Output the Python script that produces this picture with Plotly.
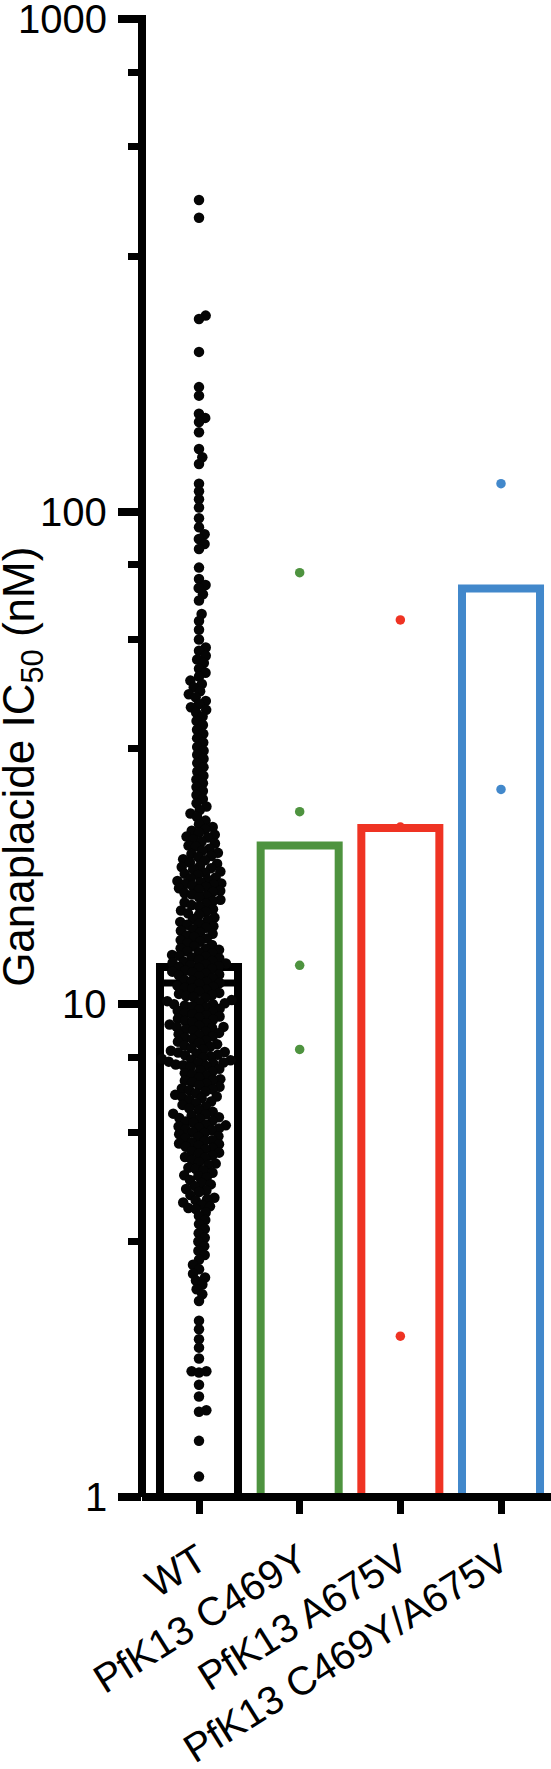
import math
import numpy as np
import plotly.graph_objects as go

# ---- data ----
groups = ["WT", "PfK13 C469Y", "PfK13 A675V", "PfK13 C469Y/A675V"]
colors = ["#000000", "#4E933F", "#EF3323", "#4288CB"]
bar_heights = [11.9, 21.0, 22.8, 69.8]
wt_err_minus = 0.85

y_ticks = [1, 10, 100, 1000]
y_minor = [3.3, 5.5, 7.8, 33, 55, 78, 330, 550, 780]

wt_vals = [
    429, 395, 250, 246, 211, 179, 172, 158, 155, 152, 145, 134, 129, 125, 114, 110,
    106, 102, 97, 93, 90, 88, 86, 84, 77, 73, 71, 70, 68, 66, 62, 60, 57.6, 55, 53,
    52.2, 51.0, 50.1, 49.3, 48.0, 47.1,
    46.3, 45.4, 44.7, 44.0, 43.2, 42.6, 42.0, 41.3, 40.7, 40.1, 39.6, 39.1,
    38.4, 37.6, 36.9, 36.1, 35.4, 34.7, 34.0, 33.3, 32.7, 32.1, 31.5, 30.9, 30.3, 29.7,
    29.1, 28.6, 28.1, 27.6, 27.1, 26.6, 26.1, 25.6, 25.2, 24.8, 24.4, 24.0, 23.6, 23.2, 22.9,
    22.7, 22.5, 22.3, 22.1, 21.9, 21.8, 21.6, 21.4, 21.2, 21.0, 20.9, 20.7, 20.5, 20.3, 20.2,
    20.0, 19.9, 19.7, 19.6, 19.4, 19.3, 19.1, 19.0, 18.9, 18.8, 18.6, 18.5, 18.4, 18.3, 18.1,
    18.0, 17.9, 17.8, 17.7, 17.6, 17.55, 17.5,
    17.4, 17.3, 17.2, 17.1, 17.0, 16.9, 16.8, 16.7, 16.6, 16.5, 16.3, 16.2, 16.1, 16.0, 15.9,
    15.8, 15.6, 15.5, 15.4, 15.3, 15.2, 15.0, 14.9, 14.8, 14.7, 14.6, 14.5, 14.4, 14.3, 14.2,
    14.1, 14.0, 13.9, 13.8, 13.7, 13.6, 13.5, 13.4, 13.3, 13.2, 13.1, 13.0, 12.95, 12.9, 12.8,
    12.75, 12.7, 12.6, 12.55, 12.5, 12.45, 12.4, 12.3,
    12.25, 12.2, 12.15, 12.1, 12.05, 12.0, 11.95, 11.9, 11.85, 11.8, 11.7, 11.65, 11.6, 11.55,
    11.5, 11.45, 11.4, 11.3, 11.2, 11.15, 11.1, 11.05, 11.0, 10.9, 10.85, 10.8, 10.75, 10.7,
    10.6, 10.55, 10.5, 10.45, 10.4, 10.35, 10.3, 10.2,
    10.15, 10.1, 10.05, 10.0, 10.0, 9.95, 9.9, 9.85, 9.8, 9.75, 9.7, 9.65, 9.6, 9.55, 9.5,
    9.45, 9.4, 9.35, 9.3, 9.25, 9.2, 9.15, 9.1, 9.05, 9.0, 9.0, 8.95, 8.9, 8.85, 8.8, 8.75,
    8.7, 8.65, 8.6, 8.55, 8.5, 8.45, 8.4, 8.35, 8.3, 8.25, 8.2, 8.15, 8.1, 8.05, 8.0, 7.98,
    7.95, 7.9, 7.88, 7.85, 7.8, 7.75, 7.72, 7.7, 7.65, 7.62, 7.6, 7.58, 7.55, 7.52, 7.5,
    7.45, 7.4, 7.35, 7.3, 7.25, 7.2, 7.15, 7.1, 7.05, 7.02, 7.0, 6.95, 6.9, 6.85, 6.8, 6.75,
    6.72, 6.7, 6.65, 6.6, 6.55, 6.5, 6.48, 6.45, 6.4, 6.35, 6.3, 6.25, 6.2, 6.15, 6.1, 6.05,
    6.0, 5.98, 5.95, 5.9, 5.88, 5.85, 5.8, 5.78, 5.75, 5.7, 5.68, 5.65, 5.62, 5.6, 5.58,
    5.55, 5.5, 5.48, 5.45, 5.4, 5.38, 5.35, 5.3, 5.28, 5.25, 5.22, 5.2, 5.17, 5.14, 5.11, 5.08,
    5.03, 5.0, 4.98, 4.93, 4.9, 4.88, 4.83, 4.78, 4.75, 4.72, 4.66, 4.63, 4.6, 4.55, 4.5,
    4.48, 4.45, 4.4, 4.34, 4.31, 4.28, 4.22, 4.19, 4.16, 4.1, 4.05, 4.02, 4.0, 3.96, 3.92,
    3.89, 3.86, 3.84,
    3.78, 3.72, 3.65, 3.58, 3.5, 3.43, 3.36, 3.3, 3.23, 3.16, 3.1, 3.03, 2.96, 2.9, 2.84,
    2.79, 2.75,
    2.7, 2.64, 2.58, 2.50, 2.28, 2.19, 2.09, 2.01, 1.91, 1.80, 1.80, 1.79, 1.69, 1.60,
    1.50, 1.49, 1.30, 1.10,
]
c469y_vals = [75.2, 24.6, 12.0, 8.1]
a675v_vals = [60.3, 22.9, 2.12]
double_vals = [114.0, 27.3]

# ---- geometry (px) ----
W, H = 551, 1769
ML, MT, MB = 142, 19, 272
PX_DEC = (H - MT - MB) / 3.0
PX_CAT = 100.67


def swarm(vals, dcol):
    # simple beeswarm: put each point as close to the centre as it can go
    ys = PX_DEC * np.log10(np.asarray(vals, dtype=float))
    xs = np.zeros(len(ys))
    placed = []
    for i in np.argsort(ys, kind="stable"):
        y = ys[i]
        near = [(px, py) for px, py in placed if abs(py - y) < dcol]
        cands = [0.0]
        for px, py in near:
            dx = math.sqrt(dcol ** 2 - (py - y) ** 2)
            cands += [px + dx, px - dx]
        cands.sort(key=abs)
        for c in cands:
            if all((c - px) ** 2 + (y - py) ** 2 >= dcol ** 2 - 1e-6 for px, py in near):
                xs[i] = c
                break
        placed.append((xs[i], y))
    return xs / PX_CAT


fig = go.Figure()

# bars (outlined)
for i, (g, c, h) in enumerate(zip(groups, colors, bar_heights)):
    err = None
    if i == 0:
        err = dict(type="data", symmetric=False, array=[0], arrayminus=[wt_err_minus],
                   color=c, thickness=7, width=35)
    fig.add_trace(go.Bar(x=[i], y=[h], width=0.775,
                         marker=dict(color="rgba(255,255,255,0)", line=dict(color=c, width=8)),
                         error_y=err, hoverinfo="skip"))

# points
wt_x = swarm(wt_vals, 7.5)
fig.add_trace(go.Scatter(x=wt_x, y=wt_vals, mode="markers",
                         marker=dict(color="#050505", size=10.5, line=dict(width=0))))
for i, vals in zip([1, 2, 3], [c469y_vals, a675v_vals, double_vals]):
    fig.add_trace(go.Scatter(x=[i] * len(vals), y=vals, mode="markers",
                             marker=dict(color=colors[i], size=9.5, line=dict(width=0))))

font = "Liberation Sans, Arial, sans-serif"
plot_h = H - MT - MB

# axis lines drawn as shapes so they sit centred on the data edges
fig.add_shape(type="line", xref="paper", yref="paper", x0=0, x1=0, y0=0, y1=1 + 4.0 / plot_h,
              line=dict(color="black", width=8))
fig.add_shape(type="line", xref="paper", yref="paper", x0=0, x1=1, y0=0, y1=0,
              line=dict(color="black", width=8))

# y tick labels
for v in y_ticks:
    fig.add_annotation(text=str(v), xref="paper", yref="y", x=0, y=math.log10(v),
                       xanchor="right", yanchor="middle", xshift=-33, showarrow=False,
                       font=dict(family=font, size=40, color="black"))

fig.add_annotation(text="Ganaplacide IC<sub>50</sub> (nM)", textangle=-90,
                   xref="paper", yref="paper", x=(22 - ML) / (W - ML), y=0.494,
                   xanchor="center", yanchor="middle", showarrow=False,
                   font=dict(family=font, size=44, color="black"))

fig.update_layout(
    width=W, height=H,
    margin=dict(l=ML, r=0, t=MT, b=MB, pad=0),
    paper_bgcolor="white", plot_bgcolor="white",
    showlegend=False, barmode="overlay",
    font=dict(family=font, color="black"),
)
fig.update_xaxes(range=[(ML - 199) / PX_CAT, (ML - 199) / PX_CAT + (W - ML) / PX_CAT],
                 tickvals=[0, 1, 2, 3], ticktext=groups, tickangle=-32,
                 ticks="outside", ticklen=16, tickwidth=7, tickcolor="black",
                 ticklabelstandoff=7,
                 tickfont=dict(family=font, size=40, color="black"),
                 showline=False, showgrid=False, zeroline=False, automargin=False)
fig.update_yaxes(type="log", range=[0, 3],
                 tickvals=y_ticks, showticklabels=False,
                 ticks="outside", ticklen=23, tickwidth=8, tickcolor="black",
                 minor=dict(tickvals=y_minor,
                            ticks="outside", ticklen=13, tickwidth=7, tickcolor="black",
                            showgrid=False),
                 showline=False, showgrid=False, zeroline=False, automargin=False)

fig.write_html("out.html", config={"displayModeBar": False},
               post_script="document.body.style.margin='0';")
